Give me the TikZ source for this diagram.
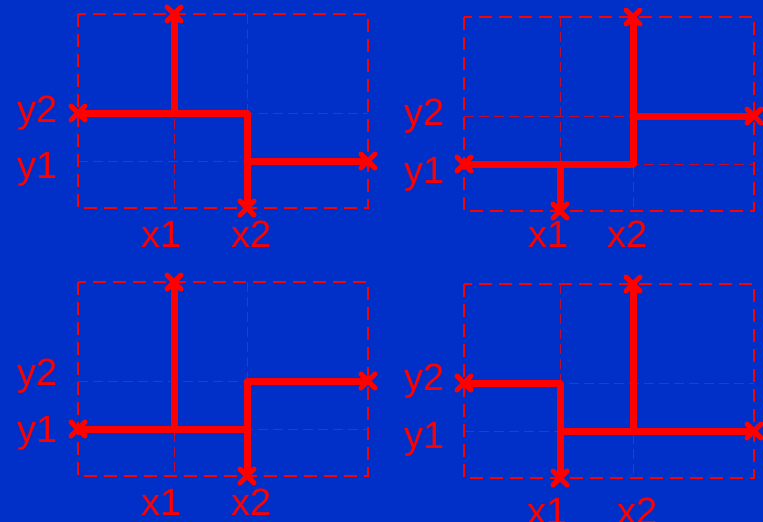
\documentclass[tikz,border=0pt]{standalone}
\usepackage{fontspec}
\setmainfont{Liberation Sans}
\usetikzlibrary{shapes.misc}

\definecolor{bgblue}{RGB}{0,48,200}
\definecolor{wirered}{RGB}{255,0,0}

% dashed box with the x1/x2/y1/y2 grid, and its named points
\newcommand{\gridbox}{%
  \draw[frame] (0,0) rectangle (290,194);
  \draw[gridln] (96,0) -- (96,194) (169,0) -- (169,194)
                (0,99) -- (290,99) (0,147) -- (290,147);
  \coordinate (t1) at (96,0);   \coordinate (t2) at (169,0);
  \coordinate (b1) at (96,194); \coordinate (b2) at (169,194);
  \coordinate (l1) at (0,147);  \coordinate (l2) at (0,99);
  \coordinate (r1) at (290,147);\coordinate (r2) at (290,99);
  \coordinate (p11) at (96,147);  \coordinate (p12) at (96,99);
  \coordinate (p21) at (169,147); \coordinate (p22) at (169,99);
}

\begin{document}
\begin{tikzpicture}[x=1pt, y=-1pt,
  frame/.style={draw=wirered, line width=2.6pt, dash pattern=on 13pt off 7pt},
  gridln/.style={draw=wirered!75!bgblue, line width=0.9pt, dash pattern=on 10pt off 5pt},
  trace/.style={draw=wirered, line width=7pt, line cap=round, line join=round},
  endx/.style={cross out, draw=wirered, line width=5pt, line cap=round,
               minimum size=9pt, inner sep=0pt},
  lbl/.style={text=wirered, anchor=base, font=\fontsize{38}{40}\selectfont}]
  \fill[bgblue] (0,0) rectangle (763,522);
  \useasboundingbox (0,0) rectangle (763,522);

  % top left
  \begin{scope}[shift={(78,14)}]
    \gridbox
    \draw[trace] (t1) -- (p12);
    \draw[trace] (l2) -- (p22) -- (b2);
    \draw[trace] (p21) -- (r1);
    \foreach \e in {t1,l2,b2,r1} \node[endx] (a\e) at (\e) {};
    \node[lbl] (ay2) at (-40,108) {y2};
    \node[lbl] (ay1) at (-40,164) {y1};
    \node[lbl] (ax1) at (84,233) {x1};
    \node[lbl] (ax2) at (174,233) {x2};
  \end{scope}

  % top right
  \begin{scope}[shift={(464,17)}]
    \gridbox
    \draw[trace] (b1) -- (p11);
    \draw[trace] (l1) -- (p21) -- (t2);
    \draw[trace] (p22) -- (r2);
    \foreach \e in {b1,l1,t2,r2} \node[endx] (b\e) at (\e) {};
    \node[lbl] (by2) at (-39,108) {y2};
    \node[lbl] (by1) at (-39,166) {y1};
    \node[lbl] (bx1) at (85,230) {x1};
    \node[lbl] (bx2) at (164,230) {x2};
  \end{scope}

  % bottom left
  \begin{scope}[shift={(78,282)}]
    \gridbox
    \draw[trace] (t1) -- (p11);
    \draw[trace] (l1) -- (p21);
    \draw[trace] (b2) -- (p22) -- (r2);
    \foreach \e in {t1,l1,b2,r2} \node[endx] (c\e) at (\e) {};
    \node[lbl] (cy2) at (-40,103) {y2};
    \node[lbl] (cy1) at (-40,160) {y1};
    \node[lbl] (cx1) at (84,233) {x1};
    \node[lbl] (cx2) at (174,233) {x2};
  \end{scope}

  % bottom right
  \begin{scope}[shift={(464,284)}]
    \gridbox
    \draw[trace] (l2) -- (p12) -- (b1);
    \draw[trace] (p11) -- (r1);
    \draw[trace] (t2) -- (p21);
    \foreach \e in {l2,b1,r1,t2} \node[endx] (d\e) at (\e) {};
    \node[lbl] (dy2) at (-39,106) {y2};
    \node[lbl] (dy1) at (-39,164) {y1};
    \node[lbl] (dx1) at (84,240) {x1};
    \node[lbl] (dx2) at (174,240) {x2};
  \end{scope}
\end{tikzpicture}
\end{document}
